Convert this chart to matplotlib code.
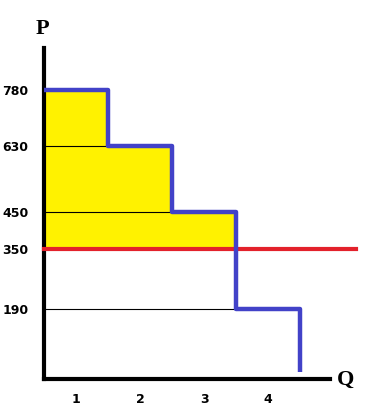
import numpy as np
import matplotlib.pyplot as plt

# demand steps: quantity edges and price on each unit
q_edges = [0, 1, 2, 3, 4]
prices = [780, 630, 450, 190]
price_bottom = 20          # where the last step stops
market_price = 350
y_ticks = [190, 350, 450, 630, 780]
x_labels = ['1', '2', '3', '4']

fig = plt.figure(figsize=(3.76, 4.13), dpi=100)
ax = fig.add_axes([0.117, 0.082, 0.761, 0.801])

# build step path for demand
xs = [q_edges[0]]
ys = [prices[0]]
for i, p in enumerate(prices):
    xs += [q_edges[i + 1], q_edges[i + 1]]
    nxt = prices[i + 1] if i + 1 < len(prices) else price_bottom
    ys += [p, nxt]

# consumer surplus (yellow) above market price
for i, p in enumerate(prices):
    if p > market_price:
        ax.fill_between([q_edges[i], q_edges[i + 1]], market_price, p,
                        color='#fff200', lw=0, zorder=1)

# thin guide lines from the axis to each step
for i, p in enumerate(prices[1:], start=1):
    ax.plot([0, q_edges[i]], [p, p], color='black', lw=0.8, zorder=2)

ax.plot(xs, ys, color='#4242c8', lw=3.2, zorder=4, solid_capstyle='butt')
ax.plot([0, 4.87], [market_price, market_price], color='#e3212b', lw=3,
        zorder=3, clip_on=False)

ax.set_xlim(0, 4.47)
ax.set_ylim(0, 893)
ax.set_yticks(y_ticks)
ax.set_yticklabels([str(v) for v in y_ticks], fontsize=9, fontweight='bold')
ax.set_xticks([q + 0.5 for q in q_edges[:-1]])
ax.set_xticklabels(x_labels, fontsize=9, fontweight='bold')
ax.tick_params(length=0, pad=10)
ax.tick_params(axis='y', pad=11)

for s in ['top', 'right']:
    ax.spines[s].set_visible(False)
for s in ['left', 'bottom']:
    ax.spines[s].set_linewidth(3)

fig.text(0.112, 0.93, 'P', fontsize=16, family='Liberation Serif',
         fontweight='bold', ha='center', va='center')
fig.text(0.92, 0.08, 'Q', fontsize=16, family='Liberation Serif',
         fontweight='bold', ha='center', va='center')

fig.savefig('out.png', dpi=100)
